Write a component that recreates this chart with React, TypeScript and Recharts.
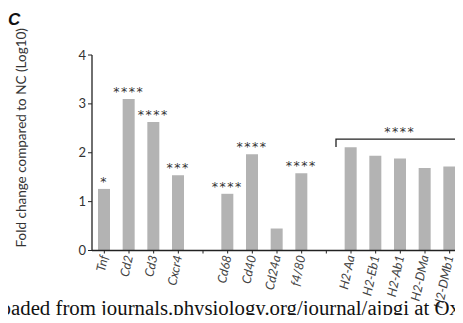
import React from "react";
import {
  BarChart,
  Bar,
  XAxis,
  YAxis,
  LabelList,
  ReferenceLine,
} from "recharts";

// "" entries are the gaps between the three gene groups
const GENES = [
  "Tnf", "Cd2", "Cd3", "Cxcr4", "",
  "Cd68", "Cd40", "Cd24a", "f4/80", "",
  "H2-Aa", "H2-Eb1", "H2-Ab1", "H2-DMa", "H2-DMb1",
];
const FOLD = [
  1.26, 3.1, 2.63, 1.54, null,
  1.16, 1.97, 0.45, 1.58, null,
  2.11, 1.94, 1.88, 1.69, 1.72,
];
const SIG = [
  "*", "****", "****", "***", "",
  "****", "****", "", "****", "",
  "", "", "", "", "",
];
const Y_TICKS = [0, 1, 2, 3, 4];
const GROUP_SIG = { from: "H2-Aa", to: "H2-DMb1", level: 2.28, label: "****" };

// gaps get a unique key so the category scale keeps them apart
const data = GENES.map((name, i) => ({
  key: name || `gap-${i}`,
  name,
  fold: FOLD[i],
  sig: SIG[i],
}));

const AXIS = "#222";
const BAR = "#b3b3b3";
const FONT = "Lato, 'Open Sans', sans-serif";
const STAR = { fontFamily: "'DejaVu Sans', sans-serif", fontSize: 12.5, fill: "#333", letterSpacing: 1.5 };

const GeneTick = (props: any) => {
  const { x, y, payload } = props;
  const label = String(payload.value).startsWith("gap-") ? "" : payload.value;
  return (
    <g transform={`translate(${x},${y})`}>
      <text
        transform="rotate(-78)"
        textAnchor="end"
        dy={4}
        fontFamily={FONT}
        fontStyle="italic"
        fontSize={12.5}
        fill="#444"
      >
        {label}
      </text>
    </g>
  );
};

const YLabel = (props: any) => {
  const { viewBox } = props;
  const cx = 21;
  const cy = viewBox.y + viewBox.height / 2 - 15;
  return (
    <text
      x={cx}
      y={cy}
      transform={`rotate(-90, ${cx}, ${cy})`}
      textAnchor="middle"
      dominantBaseline="central"
      fontFamily={FONT}
      fontSize={13.5}
      fill="#333"
    >
      Fold change compared to NC (Log10)
    </text>
  );
};

const Bracket = (props: any) => {
  const { x1, x2, y1 } = props;
  const l = x1 - 15;
  const r = x2 + 12;
  return (
    <g>
      <path
        d={`M${l},${y1 + 8} V${y1} H${r} V${y1 + 8}`}
        fill="none"
        stroke={AXIS}
        strokeWidth={1.3}
      />
      <text x={(l + r) / 2 + 1} y={y1 - 3} textAnchor="middle" {...STAR}>
        {GROUP_SIG.label}
      </text>
    </g>
  );
};

export default function App() {
  return (
    <div
      style={{
        position: "relative",
        width: 463,
        height: 323,
        margin: -8,
        overflow: "hidden",
        background: "#fff",
      }}
    >
      <BarChart
        width={463}
        height={323}
        data={data}
        margin={{ top: 55, right: 1, left: 0, bottom: 0 }}
      >
        <XAxis
          dataKey="key"
          interval={0}
          height={72.5}
          tick={<GeneTick />}
          tickSize={3}
          stroke={AXIS}
          axisLine={{ stroke: AXIS, strokeWidth: 1.3 }}
          tickLine={{ stroke: AXIS }}
        />
        <YAxis
          width={92}
          domain={[0, 4]}
          ticks={Y_TICKS}
          tickSize={4}
          axisLine={{ stroke: AXIS, strokeWidth: 1.3 }}
          tickLine={{ stroke: AXIS }}
          tick={{ fontFamily: FONT, fontSize: 13, fill: "#333" }}
          label={<YLabel />}
        />
        <Bar dataKey="fold" fill={BAR} barSize={12} isAnimationActive={false}>
          <LabelList dataKey="sig" position="top" offset={3} style={STAR} />
        </Bar>
        <ReferenceLine
          segment={[
            { x: GROUP_SIG.from, y: GROUP_SIG.level },
            { x: GROUP_SIG.to, y: GROUP_SIG.level },
          ]}
          shape={<Bracket />}
        />
      </BarChart>
      <svg
        width={463}
        height={323}
        style={{ position: "absolute", left: 0, top: 0, pointerEvents: "none" }}
      >
        <text
          x={8}
          y={25}
          fontFamily="'Liberation Sans', Arial, sans-serif"
          fontWeight="bold"
          fontStyle="italic"
          fontSize={17}
          fill="#111"
        >
          C
        </text>
        <text
          x={-56}
          y={314.5}
          fontFamily="'Liberation Serif', 'Times New Roman', serif"
          fontSize={20.8}
          fill="#111"
        >
          Downloaded from journals.physiology.org/journal/ajpgi at Oxford University
        </text>
      </svg>
    </div>
  );
}
